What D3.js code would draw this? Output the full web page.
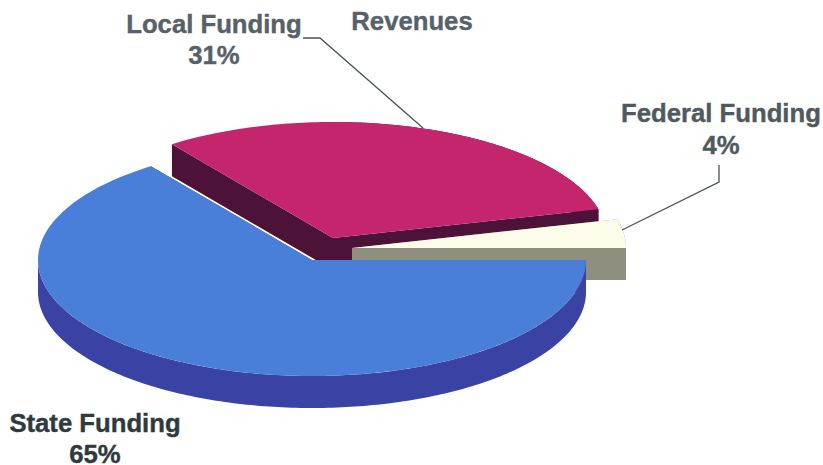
<!DOCTYPE html>
<html><head><meta charset="utf-8">
<script src="https://cdnjs.cloudflare.com/ajax/libs/d3/7.8.5/d3.min.js"></script>
<style>html,body{margin:0;padding:0;background:#fff}svg{display:block}
text{font-family:"Liberation Sans",Arial,sans-serif;font-weight:700;stroke-width:.4;font-size:25.7px;text-anchor:middle}</style>
</head><body><script>
const categories=["State Funding","Local Funding","Federal Funding"];
const shares=[65,31,4];
const title="Revenues";
const topColors=["#4a7fd9","#c5256d","#fdfbe9"];
const wallColors=["#3a42a4","#4c1238","#8f8f80"];
const labelColors=["#2f3a40","#56616a","#4f5a60"];
const centers=[[312,260],[333,238],[352,248]];
const labelPos=[[95,431.5],[214,32.5],[721,122]];
const leaders=[null,[[303,38],[320,38],[423,128]],[[719,165],[719,182],[622,230]]];
const rx=274,ry=116,depth=32,W=823,H=465;

const svg=d3.select("body").append("svg").attr("width",W).attr("height",H);
const slices=d3.pie().sort(null).startAngle(Math.PI/2).endAngle(Math.PI*2.5)(shares);
const sx=d3.scaleLinear().domain([-1,1]).range([-rx,rx]);
const sy=d3.scaleLinear().domain([-1,1]).range([-ry,ry]);
const line=d3.line();
const pt=(a,c,dy=0)=>[c[0]+sx(Math.sin(a)),c[1]+sy(-Math.cos(a))+dy];
const arcPts=(a0,a1,c,dy=0)=>{const n=Math.max(2,Math.ceil(Math.abs(a1-a0)*60));
  return d3.range(n+1).map(i=>pt(a0+(a1-a0)*i/n,c,dy));};

[1,2,0].forEach(i=>{
  const s=slices[i],c=centers[i],col=topColors[i],wall=wallColors[i];
  const g=svg.append("g");
  [s.startAngle,s.endAngle].forEach(a=>{
    const p=pt(a,c);
    g.append("path").attr("fill",wall)
     .attr("d",line([c,p,[p[0],p[1]+depth],[c[0],c[1]+depth]])+"Z");
  });
  const lo=Math.max(s.startAngle,Math.PI/2),hi=Math.min(s.endAngle,Math.PI*1.5);
  if(hi>lo){
    const a=arcPts(lo,hi,c),b=arcPts(hi,lo,c,depth);
    g.append("path").attr("fill",wall).attr("d",line(a.concat(b))+"Z");
  }
  if(s.endAngle>Math.PI*2){
    const lo2=Math.max(s.startAngle,Math.PI*2),hi2=s.endAngle;
    const a=arcPts(lo2,hi2,c),b=arcPts(hi2,lo2,c,depth);
    g.append("path").attr("fill",wall).attr("d",line(a.concat(b))+"Z");
  }
  g.append("path").attr("fill",col)
   .attr("d",line([c].concat(arcPts(s.startAngle,s.endAngle,c)))+"Z");
});

leaders.forEach(l=>{ if(l) svg.append("path").attr("fill","none").attr("stroke","#4a5256").attr("stroke-width",1.3).attr("d",line(l)); });

categories.forEach((n,i)=>{
  const t=svg.append("text").attr("x",labelPos[i][0]).attr("y",labelPos[i][1])
    .attr("fill",labelColors[i]).attr("stroke",labelColors[i]);
  t.append("tspan").attr("x",labelPos[i][0]).text(n);
  t.append("tspan").attr("x",labelPos[i][0]).attr("dy",31.5).text(shares[i]+"%");
});
svg.append("text").attr("x",412).attr("y",30).attr("fill",labelColors[1]).attr("stroke",labelColors[1]).text(title);
</script></body></html>
